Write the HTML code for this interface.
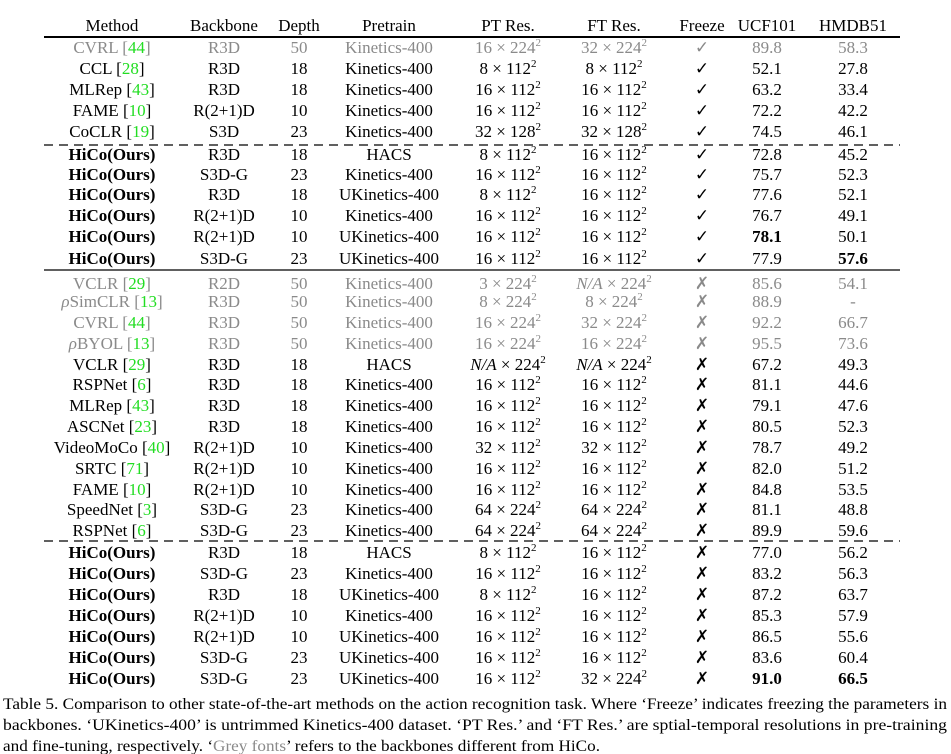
<!DOCTYPE html>
<html><head><meta charset="utf-8"><style>
html,body{margin:0;padding:0;background:#fff;}
svg{display:block;font-family:"Liberation Serif","DejaVu Serif",serif;}
.g{fill:#8a8a8a}.c{fill:#22dd22}.b{font-weight:bold}
</style></head><body>
<svg width="951" height="754" viewBox="0 0 951 754" font-size="17" fill="#000" text-anchor="middle">
<!-- header -->
<g transform="translate(0,31)">
<text x="112">Method</text><text x="224">Backbone</text><text x="299">Depth</text><text x="389">Pretrain</text><text x="508">PT Res.</text><text x="614">FT Res.</text><text x="702">Freeze</text><text x="767">UCF101</text><text x="853">HMDB51</text>
</g>
<line x1="44" y1="37" x2="900" y2="37" stroke="#000" stroke-width="2"/>
<line x1="44" y1="145" x2="900" y2="145" stroke="#000" stroke-width="1.3" stroke-dasharray="9,6"/>
<line x1="44" y1="270" x2="900" y2="270" stroke="#000" stroke-width="1.3"/>
<line x1="44" y1="541" x2="900" y2="541" stroke="#000" stroke-width="1.3" stroke-dasharray="9,6"/>

<!-- block 1 -->
<g class="g" transform="translate(0,53)"><text x="112">CVRL [<tspan class="c">44</tspan>]</text><text x="224">R3D</text><text x="299">50</text><text x="389">Kinetics-400</text><text x="508">16 × 224<tspan dy="-7" font-size="11">2</tspan></text><text x="614">32 × 224<tspan dy="-7" font-size="11">2</tspan></text><text x="702">✓</text><text x="767">89.8</text><text x="853">58.3</text></g>
<g transform="translate(0,74)"><text x="112">CCL [<tspan class="c">28</tspan>]</text><text x="224">R3D</text><text x="299">18</text><text x="389">Kinetics-400</text><text x="508">8 × 112<tspan dy="-7" font-size="11">2</tspan></text><text x="614">8 × 112<tspan dy="-7" font-size="11">2</tspan></text><text x="702">✓</text><text x="767">52.1</text><text x="853">27.8</text></g>
<g transform="translate(0,95)"><text x="112">MLRep [<tspan class="c">43</tspan>]</text><text x="224">R3D</text><text x="299">18</text><text x="389">Kinetics-400</text><text x="508">16 × 112<tspan dy="-7" font-size="11">2</tspan></text><text x="614">16 × 112<tspan dy="-7" font-size="11">2</tspan></text><text x="702">✓</text><text x="767">63.2</text><text x="853">33.4</text></g>
<g transform="translate(0,116)"><text x="112">FAME [<tspan class="c">10</tspan>]</text><text x="224">R(2+1)D</text><text x="299">10</text><text x="389">Kinetics-400</text><text x="508">16 × 112<tspan dy="-7" font-size="11">2</tspan></text><text x="614">16 × 112<tspan dy="-7" font-size="11">2</tspan></text><text x="702">✓</text><text x="767">72.2</text><text x="853">42.2</text></g>
<g transform="translate(0,137)"><text x="112">CoCLR [<tspan class="c">19</tspan>]</text><text x="224">S3D</text><text x="299">23</text><text x="389">Kinetics-400</text><text x="508">32 × 128<tspan dy="-7" font-size="11">2</tspan></text><text x="614">32 × 128<tspan dy="-7" font-size="11">2</tspan></text><text x="702">✓</text><text x="767">74.5</text><text x="853">46.1</text></g>
<g transform="translate(0,160)"><text x="112" class="b">HiCo(Ours)</text><text x="224">R3D</text><text x="299">18</text><text x="389">HACS</text><text x="508">8 × 112<tspan dy="-7" font-size="11">2</tspan></text><text x="614">16 × 112<tspan dy="-7" font-size="11">2</tspan></text><text x="702">✓</text><text x="767">72.8</text><text x="853">45.2</text></g>
<g transform="translate(0,180)"><text x="112" class="b">HiCo(Ours)</text><text x="224">S3D-G</text><text x="299">23</text><text x="389">Kinetics-400</text><text x="508">16 × 112<tspan dy="-7" font-size="11">2</tspan></text><text x="614">16 × 112<tspan dy="-7" font-size="11">2</tspan></text><text x="702">✓</text><text x="767">75.7</text><text x="853">52.3</text></g>
<g transform="translate(0,200)"><text x="112" class="b">HiCo(Ours)</text><text x="224">R3D</text><text x="299">18</text><text x="389">UKinetics-400</text><text x="508">8 × 112<tspan dy="-7" font-size="11">2</tspan></text><text x="614">16 × 112<tspan dy="-7" font-size="11">2</tspan></text><text x="702">✓</text><text x="767">77.6</text><text x="853">52.1</text></g>
<g transform="translate(0,221)"><text x="112" class="b">HiCo(Ours)</text><text x="224">R(2+1)D</text><text x="299">10</text><text x="389">Kinetics-400</text><text x="508">16 × 112<tspan dy="-7" font-size="11">2</tspan></text><text x="614">16 × 112<tspan dy="-7" font-size="11">2</tspan></text><text x="702">✓</text><text x="767">76.7</text><text x="853">49.1</text></g>
<g transform="translate(0,242)"><text x="112" class="b">HiCo(Ours)</text><text x="224">R(2+1)D</text><text x="299">10</text><text x="389">UKinetics-400</text><text x="508">16 × 112<tspan dy="-7" font-size="11">2</tspan></text><text x="614">16 × 112<tspan dy="-7" font-size="11">2</tspan></text><text x="702">✓</text><text x="767" class="b">78.1</text><text x="853">50.1</text></g>
<g transform="translate(0,264)"><text x="112" class="b">HiCo(Ours)</text><text x="224">S3D-G</text><text x="299">23</text><text x="389">UKinetics-400</text><text x="508">16 × 112<tspan dy="-7" font-size="11">2</tspan></text><text x="614">16 × 112<tspan dy="-7" font-size="11">2</tspan></text><text x="702">✓</text><text x="767">77.9</text><text x="853" class="b">57.6</text></g>

<!-- block 2 -->
<g class="g" transform="translate(0,289)"><text x="112">VCLR [<tspan class="c">29</tspan>]</text><text x="224">R2D</text><text x="299">50</text><text x="389">Kinetics-400</text><text x="508">3 × 224<tspan dy="-7" font-size="11">2</tspan></text><text x="614"><tspan font-style="italic">N/A</tspan> × 224<tspan dy="-7" font-size="11">2</tspan></text><text x="702">✗</text><text x="767">85.6</text><text x="853">54.1</text></g>
<g class="g" transform="translate(0,307)"><text x="112"><tspan font-style="italic">ρ</tspan>SimCLR [<tspan class="c">13</tspan>]</text><text x="224">R3D</text><text x="299">50</text><text x="389">Kinetics-400</text><text x="508">8 × 224<tspan dy="-7" font-size="11">2</tspan></text><text x="614">8 × 224<tspan dy="-7" font-size="11">2</tspan></text><text x="702">✗</text><text x="767">88.9</text><text x="853">-</text></g>
<g class="g" transform="translate(0,328)"><text x="112">CVRL [<tspan class="c">44</tspan>]</text><text x="224">R3D</text><text x="299">50</text><text x="389">Kinetics-400</text><text x="508">16 × 224<tspan dy="-7" font-size="11">2</tspan></text><text x="614">32 × 224<tspan dy="-7" font-size="11">2</tspan></text><text x="702">✗</text><text x="767">92.2</text><text x="853">66.7</text></g>
<g class="g" transform="translate(0,349)"><text x="112"><tspan font-style="italic">ρ</tspan>BYOL [<tspan class="c">13</tspan>]</text><text x="224">R3D</text><text x="299">50</text><text x="389">Kinetics-400</text><text x="508">16 × 224<tspan dy="-7" font-size="11">2</tspan></text><text x="614">16 × 224<tspan dy="-7" font-size="11">2</tspan></text><text x="702">✗</text><text x="767">95.5</text><text x="853">73.6</text></g>
<g transform="translate(0,370)"><text x="112">VCLR [<tspan class="c">29</tspan>]</text><text x="224">R3D</text><text x="299">18</text><text x="389">HACS</text><text x="508"><tspan font-style="italic">N/A</tspan> × 224<tspan dy="-7" font-size="11">2</tspan></text><text x="614"><tspan font-style="italic">N/A</tspan> × 224<tspan dy="-7" font-size="11">2</tspan></text><text x="702">✗</text><text x="767">67.2</text><text x="853">49.3</text></g>
<g transform="translate(0,390)"><text x="112">RSPNet [<tspan class="c">6</tspan>]</text><text x="224">R3D</text><text x="299">18</text><text x="389">Kinetics-400</text><text x="508">16 × 112<tspan dy="-7" font-size="11">2</tspan></text><text x="614">16 × 112<tspan dy="-7" font-size="11">2</tspan></text><text x="702">✗</text><text x="767">81.1</text><text x="853">44.6</text></g>
<g transform="translate(0,411)"><text x="112">MLRep [<tspan class="c">43</tspan>]</text><text x="224">R3D</text><text x="299">18</text><text x="389">Kinetics-400</text><text x="508">16 × 112<tspan dy="-7" font-size="11">2</tspan></text><text x="614">16 × 112<tspan dy="-7" font-size="11">2</tspan></text><text x="702">✗</text><text x="767">79.1</text><text x="853">47.6</text></g>
<g transform="translate(0,432)"><text x="112">ASCNet [<tspan class="c">23</tspan>]</text><text x="224">R3D</text><text x="299">18</text><text x="389">Kinetics-400</text><text x="508">16 × 112<tspan dy="-7" font-size="11">2</tspan></text><text x="614">16 × 112<tspan dy="-7" font-size="11">2</tspan></text><text x="702">✗</text><text x="767">80.5</text><text x="853">52.3</text></g>
<g transform="translate(0,453)"><text x="112">VideoMoCo [<tspan class="c">40</tspan>]</text><text x="224">R(2+1)D</text><text x="299">10</text><text x="389">Kinetics-400</text><text x="508">32 × 112<tspan dy="-7" font-size="11">2</tspan></text><text x="614">32 × 112<tspan dy="-7" font-size="11">2</tspan></text><text x="702">✗</text><text x="767">78.7</text><text x="853">49.2</text></g>
<g transform="translate(0,474)"><text x="112">SRTC [<tspan class="c">71</tspan>]</text><text x="224">R(2+1)D</text><text x="299">10</text><text x="389">Kinetics-400</text><text x="508">16 × 112<tspan dy="-7" font-size="11">2</tspan></text><text x="614">16 × 112<tspan dy="-7" font-size="11">2</tspan></text><text x="702">✗</text><text x="767">82.0</text><text x="853">51.2</text></g>
<g transform="translate(0,495)"><text x="112">FAME [<tspan class="c">10</tspan>]</text><text x="224">R(2+1)D</text><text x="299">10</text><text x="389">Kinetics-400</text><text x="508">16 × 112<tspan dy="-7" font-size="11">2</tspan></text><text x="614">16 × 112<tspan dy="-7" font-size="11">2</tspan></text><text x="702">✗</text><text x="767">84.8</text><text x="853">53.5</text></g>
<g transform="translate(0,515)"><text x="112">SpeedNet [<tspan class="c">3</tspan>]</text><text x="224">S3D-G</text><text x="299">23</text><text x="389">Kinetics-400</text><text x="508">64 × 224<tspan dy="-7" font-size="11">2</tspan></text><text x="614">64 × 224<tspan dy="-7" font-size="11">2</tspan></text><text x="702">✗</text><text x="767">81.1</text><text x="853">48.8</text></g>
<g transform="translate(0,536)"><text x="112">RSPNet [<tspan class="c">6</tspan>]</text><text x="224">S3D-G</text><text x="299">23</text><text x="389">Kinetics-400</text><text x="508">64 × 224<tspan dy="-7" font-size="11">2</tspan></text><text x="614">64 × 224<tspan dy="-7" font-size="11">2</tspan></text><text x="702">✗</text><text x="767">89.9</text><text x="853">59.6</text></g>
<g transform="translate(0,558)"><text x="112" class="b">HiCo(Ours)</text><text x="224">R3D</text><text x="299">18</text><text x="389">HACS</text><text x="508">8 × 112<tspan dy="-7" font-size="11">2</tspan></text><text x="614">16 × 112<tspan dy="-7" font-size="11">2</tspan></text><text x="702">✗</text><text x="767">77.0</text><text x="853">56.2</text></g>
<g transform="translate(0,579)"><text x="112" class="b">HiCo(Ours)</text><text x="224">S3D-G</text><text x="299">23</text><text x="389">Kinetics-400</text><text x="508">16 × 112<tspan dy="-7" font-size="11">2</tspan></text><text x="614">16 × 112<tspan dy="-7" font-size="11">2</tspan></text><text x="702">✗</text><text x="767">83.2</text><text x="853">56.3</text></g>
<g transform="translate(0,600)"><text x="112" class="b">HiCo(Ours)</text><text x="224">R3D</text><text x="299">18</text><text x="389">UKinetics-400</text><text x="508">8 × 112<tspan dy="-7" font-size="11">2</tspan></text><text x="614">16 × 112<tspan dy="-7" font-size="11">2</tspan></text><text x="702">✗</text><text x="767">87.2</text><text x="853">63.7</text></g>
<g transform="translate(0,621)"><text x="112" class="b">HiCo(Ours)</text><text x="224">R(2+1)D</text><text x="299">10</text><text x="389">Kinetics-400</text><text x="508">16 × 112<tspan dy="-7" font-size="11">2</tspan></text><text x="614">16 × 112<tspan dy="-7" font-size="11">2</tspan></text><text x="702">✗</text><text x="767">85.3</text><text x="853">57.9</text></g>
<g transform="translate(0,642)"><text x="112" class="b">HiCo(Ours)</text><text x="224">R(2+1)D</text><text x="299">10</text><text x="389">UKinetics-400</text><text x="508">16 × 112<tspan dy="-7" font-size="11">2</tspan></text><text x="614">16 × 112<tspan dy="-7" font-size="11">2</tspan></text><text x="702">✗</text><text x="767">86.5</text><text x="853">55.6</text></g>
<g transform="translate(0,663)"><text x="112" class="b">HiCo(Ours)</text><text x="224">S3D-G</text><text x="299">23</text><text x="389">UKinetics-400</text><text x="508">16 × 112<tspan dy="-7" font-size="11">2</tspan></text><text x="614">16 × 112<tspan dy="-7" font-size="11">2</tspan></text><text x="702">✗</text><text x="767">83.6</text><text x="853">60.4</text></g>
<g transform="translate(0,684)"><text x="112" class="b">HiCo(Ours)</text><text x="224">S3D-G</text><text x="299">23</text><text x="389">UKinetics-400</text><text x="508">16 × 112<tspan dy="-7" font-size="11">2</tspan></text><text x="614">32 × 224<tspan dy="-7" font-size="11">2</tspan></text><text x="702">✗</text><text x="767" class="b">91.0</text><text x="853" class="b">66.5</text></g>

<!-- caption -->
<g text-anchor="start" font-size="16">
<text x="3" y="709" textLength="944" lengthAdjust="spacingAndGlyphs">Table 5. Comparison to other state-of-the-art methods on the action recognition task. Where ‘Freeze’ indicates freezing the parameters in</text>
<text x="3" y="730" textLength="944" lengthAdjust="spacingAndGlyphs">backbones. ‘UKinetics-400’ is untrimmed Kinetics-400 dataset. ‘PT Res.’ and ‘FT Res.’ are sptial-temporal resolutions in pre-training</text>
<text x="3" y="751" textLength="597" lengthAdjust="spacingAndGlyphs">and fine-tuning, respectively. ‘<tspan class="g">Grey fonts</tspan>’ refers to the backbones different from HiCo.</text>
</g>
</svg>
</body></html>
